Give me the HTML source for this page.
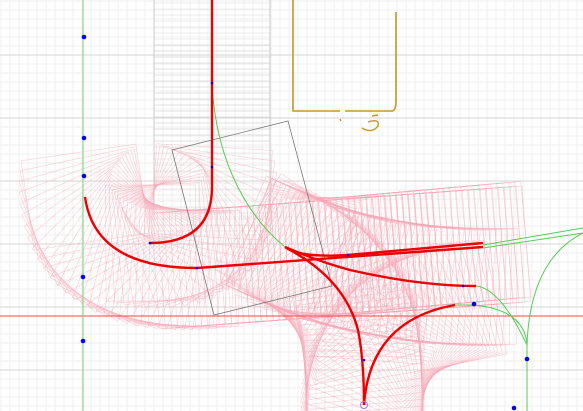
<!DOCTYPE html>
<html><head><meta charset="utf-8"><style>
html,body{margin:0;padding:0;background:#fff;overflow:hidden;width:583px;height:411px}
svg{display:block;overflow:hidden}
</style></head><body>
<svg id="c" width="583" height="411" viewBox="0 0 583 411" xmlns="http://www.w3.org/2000/svg">
<g id="grid"></g>
<g id="foot"></g>
<path d="M293,0 V111 H340 M345,111 H392 Q396,111 396,100 V12" fill="none" stroke="#c8962a" stroke-width="1.6"/>
<path d="M368,122 Q380,118 378,126 Q372,134 362,128 M340,119 l1,2 M372,116 l6,-1" fill="none" stroke="#c8962a" stroke-width="1.4"/>
<polygon points="172,150 288,121 332,286 214,315" fill="none" stroke="#777" stroke-width="0.8"/>
<line x1="0" y1="316" x2="583" y2="316" stroke="#f44" stroke-width="1"/>
<line x1="83" y1="0" x2="83" y2="411" stroke="#8d8" stroke-width="1.2"/>
<g fill="none" stroke="#5c5" stroke-width="1">
<path d="M212,83 C215,150 240,210 285,247"/>
<path d="M483,245 L583,228 M483,248 L583,233"/>
<path d="M455,305 L474,305 Q525,310 527,345 V411"/>
<path d="M527,345 Q530,260 583,233"/>
<path d="M476,286 Q500,288 527,345"/>
</g>
<g id="paths" fill="none" stroke="#e00" stroke-width="2.4">
<path class="p" d="M212,0 V187 Q212,243 150,243"/>
<path class="p" d="M85,197 Q95,268 197,268 L483,247"/>
<path class="p" d="M285,247 Q300,258 348,255 L483,243"/>
<path class="p" d="M285,247 Q320,262 350,270 Q420,286 476,286"/>
<path class="p" d="M290,250 Q345,280 358,330 Q364,360 364,405"/>
<path class="p" d="M364,405 Q370,320 455,305"/>
</g>
<g id="dots" fill="#00f"></g>
<circle cx="364" cy="405" r="3.5" fill="none" stroke="#88f"/>
</svg>
<script>
const NS='http://www.w3.org/2000/svg';
const dotsX=[84,84,84,83,83,527,514,474,150,197,212,212,348,364,463];
const dotsY=[37,138,176,277,341,359,408,304,243,268,83,167,255,360,286];
const g=document.getElementById('grid');
for(let x=1;x<583;x+=9){const l=document.createElementNS(NS,'line');


const maj=((x-1)%63===19);l.setAttribute('x1',x);l.setAttribute('x2',x);l.setAttribute('y1',0);l.setAttribute('y2',411);l.setAttribute('stroke',maj?'#d6d6d6':'#efefef');g.appendChild(l);}
for(let y=1;y<411;y+=9){const l=document.createElementNS(NS,'line');


const maj=((y-1)%63===54);l.setAttribute('y1',y);l.setAttribute('y2',y);l.setAttribute('x1',0);l.setAttribute('x2',583);l.setAttribute('stroke',maj?'#d6d6d6':'#efefef');g.appendChild(l);}
const f=document.getElementById('foot');
document.querySelectorAll('#paths .p').forEach((p,i)=>{
 const L=p.getTotalLength();
 for(let s=0;s<=L;s+=6){
  const a=p.getPointAtLength(s),b=p.getPointAtLength(Math.min(L,s+1));
  let ang=Math.atan2(b.y-a.y,b.x-a.x)*180/Math.PI;
  const r=document.createElementNS(NS,'rect');
  
  
  r.setAttribute('x',-45);r.setAttribute('y',-58);r.setAttribute('width',90);r.setAttribute('height',116);
  r.setAttribute('transform',`translate(${a.x},${a.y}) rotate(${ang})`);
  r.setAttribute('fill','none');r.setAttribute('stroke',i===0&&a.y<190?'#ccc':'#f7a9b8');r.setAttribute('stroke-opacity','0.5');r.setAttribute('stroke-width','0.7');
  f.appendChild(r);
 }
});
const d=document.getElementById('dots');
dotsX.forEach((x,i)=>{const c=document.createElementNS(NS,'circle');


c.setAttribute('cx',x);c.setAttribute('cy',dotsY[i]);c.setAttribute('r',i<8?2.3:1.3);d.appendChild(c);});
</script>
</body></html>
